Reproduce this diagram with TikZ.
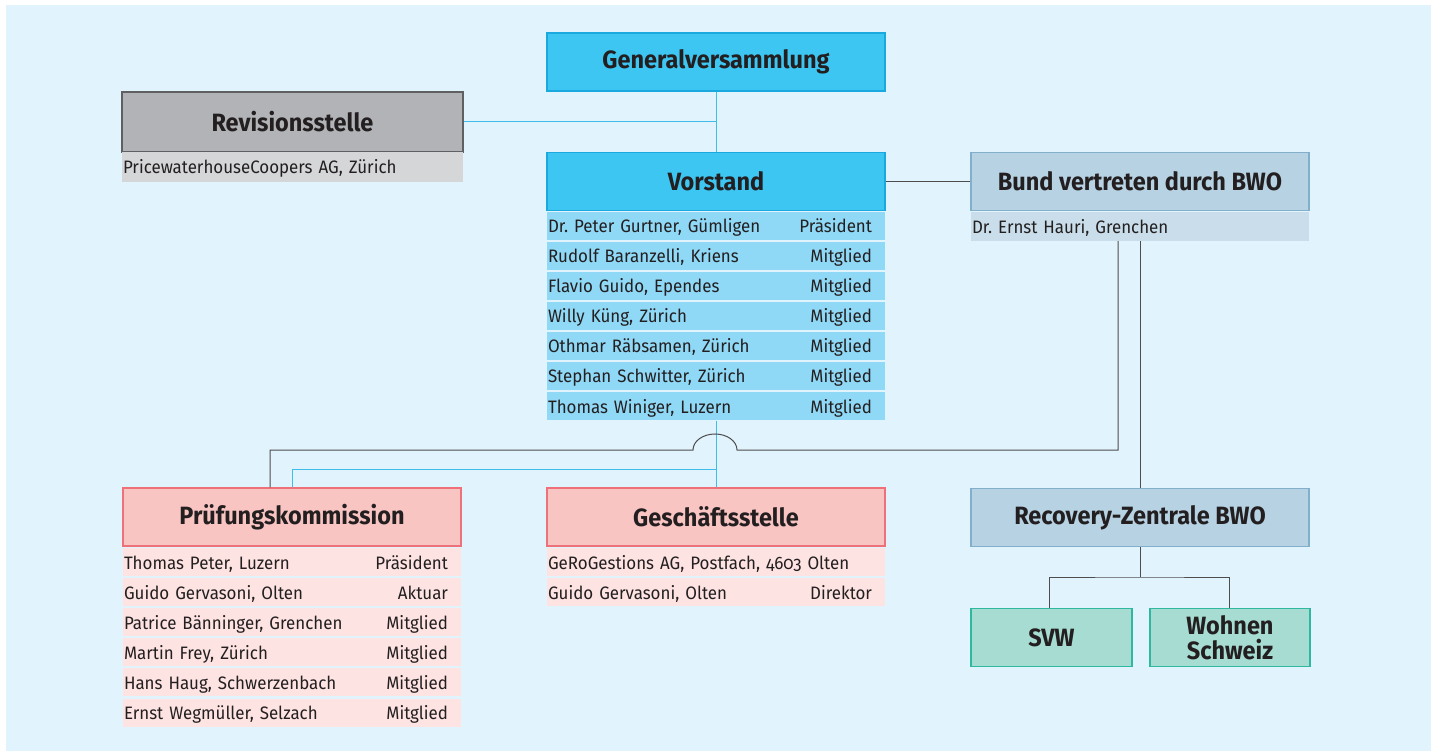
\documentclass[tikz,border=0pt]{standalone}
\usepackage{fontspec}
\setmainfont{Fira Sans}[Numbers=OldStyle, FakeStretch=0.94]
\usepackage{tikz}
\definecolor{bgBlue}{RGB}{225,243,253}
\definecolor{headBlue}{RGB}{62,198,242}
\definecolor{headBlueLine}{RGB}{26,169,223}
\definecolor{rowBlue}{RGB}{143,216,246}
\definecolor{headGray}{RGB}{177,179,182}
\definecolor{headGrayLine}{RGB}{95,96,98}
\definecolor{rowGray}{RGB}{213,214,216}
\definecolor{headSteel}{RGB}{182,210,227}
\definecolor{headSteelLine}{RGB}{130,175,201}
\definecolor{rowSteel}{RGB}{201,222,234}
\definecolor{headRose}{RGB}{249,197,195}
\definecolor{headRoseLine}{RGB}{238,113,122}
\definecolor{rowRose}{RGB}{253,228,226}
\definecolor{headTeal}{RGB}{166,220,209}
\definecolor{headTealLine}{RGB}{46,184,160}
\definecolor{lineCyan}{RGB}{61,189,232}
\definecolor{lineDark}{RGB}{77,77,77}
\definecolor{textDark}{RGB}{35,31,32}
\newcommand{\headfont}{\fontsize{25}{29}\bfseries\selectfont}
\newcommand{\rowfont}{\fontsize{18}{21}\selectfont}
\newcommand{\mrow}[2]{\makebox[\linewidth][s]{#1\hfill#2\hspace*{12pt}}}
\frenchspacing

\begin{document}
\begin{tikzpicture}[x=1pt, y=-1pt,
    head/.style={rectangle, draw, line width=1.5pt, minimum width=338pt, minimum height=58pt,
      inner sep=0pt, font=\headfont, text=textDark},
    row/.style={rectangle, minimum width=338pt, minimum height=28pt, inner xsep=1pt,
      inner ysep=0pt, text width=336pt, text height=16pt, text depth=2pt,
      font=\rowfont, text=textDark},
    cyanline/.style={draw=lineCyan, line width=1pt},
    darkline/.style={draw=lineDark, line width=1pt}]
        \useasboundingbox (0,0) rectangle (1436,751);
        \fill[bgBlue] (6,5) rectangle (1431,751);

        % Generalversammlung, Revisionsstelle
        \node[head, fill=headBlue, draw=headBlueLine] (gv) at (716,62) {Generalversammlung};
        \node[head, fill=headGray, draw=headGrayLine, minimum width=341pt, minimum height=60pt] (rev) at (292.5,122) {Revisionsstelle};
        \node[row, fill=rowGray, minimum width=341pt, minimum height=30pt, text width=339pt] (revrow) at (292.5,167) {\mrow{PricewaterhouseCoopers AG, Zürich}{}};

        % Vorstand
        \node[head, fill=headBlue, draw=headBlueLine] (vor) at (716,181.5) {Vorstand};
        \node[row, fill=rowBlue] (v1) at (716,226) {\mrow{Dr. Peter Gurtner, Gümligen}{Präsident}};
        \node[row, fill=rowBlue] (v2) at (716,256) {\mrow{Rudolf Baranzelli, Kriens}{Mitglied}};
        \node[row, fill=rowBlue] (v3) at (716,286) {\mrow{Flavio Guido, Ependes}{Mitglied}};
        \node[row, fill=rowBlue] (v4) at (716,316) {\mrow{Willy Küng, Zürich}{Mitglied}};
        \node[row, fill=rowBlue] (v5) at (716,346) {\mrow{Othmar Räbsamen, Zürich}{Mitglied}};
        \node[row, fill=rowBlue] (v6) at (716,376) {\mrow{Stephan Schwitter, Zürich}{Mitglied}};
        \node[row, fill=rowBlue] (v7) at (716,406.5) {\mrow{Thomas Winiger, Luzern}{Mitglied}};

        % Bund
        \node[head, fill=headSteel, draw=headSteelLine] (bund) at (1140,181.5) {Bund vertreten durch BWO};
        \node[row, fill=rowSteel, minimum height=29pt] (brow) at (1140,226.5) {\mrow{Dr. Ernst Hauri, Grenchen}{}};

        % Pruefungskommission
        \node[head, fill=headRose, draw=headRoseLine] (pk) at (292,517) {Prüfungskommission};
        \node[row, fill=rowRose] (p1) at (292,562) {\mrow{Thomas Peter, Luzern}{Präsident}};
        \node[row, fill=rowRose] (p2) at (292,592) {\mrow{Guido Gervasoni, Olten}{Aktuar}};
        \node[row, fill=rowRose] (p3) at (292,622) {\mrow{Patrice Bänninger, Grenchen}{Mitglied}};
        \node[row, fill=rowRose] (p4) at (292,652) {\mrow{Martin Frey, Zürich}{Mitglied}};
        \node[row, fill=rowRose] (p5) at (292,682) {\mrow{Hans Haug, Schwerzenbach}{Mitglied}};
        \node[row, fill=rowRose] (p6) at (292,712.5) {\mrow{Ernst Wegmüller, Selzach}{Mitglied}};

        % Geschaeftsstelle
        \node[head, fill=headRose, draw=headRoseLine] (gs) at (716,517) {Geschäftsstelle};
        \node[row, fill=rowRose] (g1) at (716,562) {\mrow{GeRoGestions AG, Postfach, 4603 Olten}{}};
        \node[row, fill=rowRose] (g2) at (716,592) {\mrow{Guido Gervasoni, Olten}{Direktor}};

        % Recovery-Zentrale
        \node[head, fill=headSteel, draw=headSteelLine] (rz) at (1140,517.5) {Recovery-Zentrale BWO};
        \node[head, fill=headTeal, draw=headTealLine, minimum width=161pt] (svw) at (1051.5,637.5) {SVW};
        \node[head, fill=headTeal, draw=headTealLine, minimum width=160pt, align=center] (ws) at (1230,637.5) {Wohnen\\[-4pt]Schweiz};

        % connectors
        \draw[cyanline] (gv.south) -- (vor.north);
        \draw[cyanline] (rev.east) -- (rev.east -| gv.south);
        \draw[darkline] (vor.east) -- (bund.west);
        \draw[cyanline] (v7.south) -- (gs.north);
        \coordinate (cjoin) at (716,469);
        \draw[cyanline] (cjoin) -| (pk.north);
        \draw[darkline] ([xshift=-22pt]brow.south) |- (737,450)
          arc[start angle=0, end angle=180, x radius=22pt, y radius=16pt]
          -- (270,450) -- ([xshift=-22pt]pk.north);
        \draw[darkline] (brow.south) -- (rz.north);
        \coordinate (rzfork) at (1140,577);
        \draw[darkline] (rz.south) -- (rzfork);
        \draw[darkline] ([xshift=-2pt]svw.north) |- (rzfork) -| ([xshift=-1pt]ws.north);
      \end{tikzpicture}
\end{document}
